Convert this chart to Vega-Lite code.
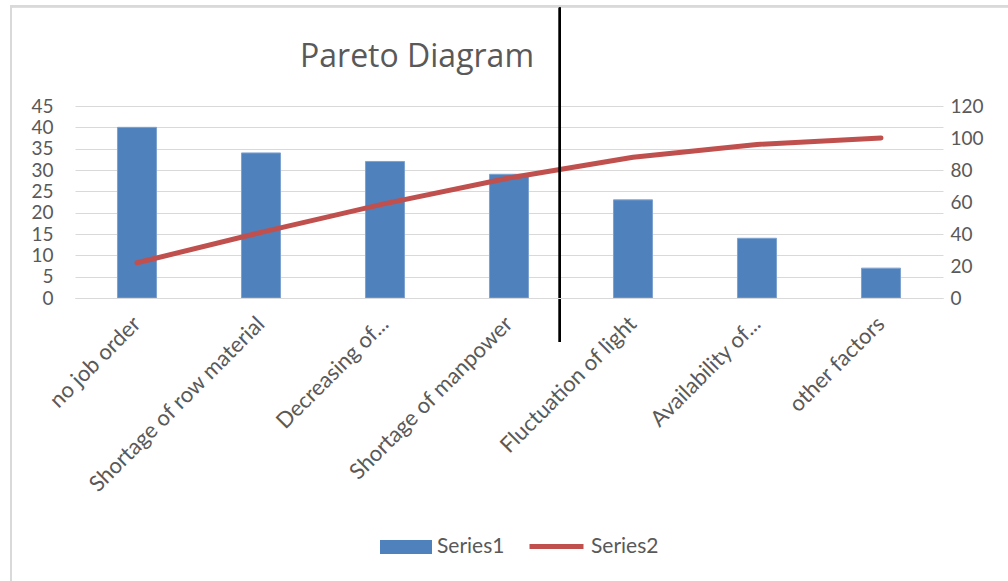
{
  "$schema": "https://vega.github.io/schema/vega-lite/v6.json",
  "autosize": "none",
  "width": 868,
  "height": 192,
  "padding": {"left": 75, "top": 106, "right": 65, "bottom": 283},
  "background": "white",
  "title": {
    "text": "Pareto Diagram",
    "anchor": "start",
    "dx": 290,
    "offset": 0,
    "dy": 69,
    "fontSize": 32,
    "font": "Open Sans",
    "fontWeight": "normal",
    "color": "#595959"
  },
  "config": {
    "view": {"stroke": null},
    "axis": {"labelFont": "Lato", "labelColor": "#595959", "labelFontSize": 19}
  },
  "data": {
    "values": [
      {"cause": "no job order", "count": 40, "cum": 22},
      {"cause": "Shortage of row material", "count": 34, "cum": 41},
      {"cause": "Decreasing of...", "count": 32, "cum": 59},
      {"cause": "Shortage of manpower", "count": 29, "cum": 75},
      {"cause": "Fluctuation of light", "count": 23, "cum": 88},
      {"cause": "Availability of...", "count": 14, "cum": 96},
      {"cause": "other factors", "count": 7, "cum": 100}
    ]
  },
  "encoding": {
    "x": {
      "field": "cause",
      "type": "nominal",
      "sort": null,
      "scale": {
        "type": "band",
        "paddingInner": 0,
        "paddingOuter": 0,
        "domain": ["no job order", "Shortage of row material", "Decreasing of...", "Shortage of manpower", "Fluctuation of light", "Availability of...", "other factors"]
      },
      "axis": {
        "title": null,
        "labelAngle": -45,
        "labelAlign": "right",
        "labelBaseline": "middle",
        "labelPadding": 22,
        "labelFontSize": 22,
        "ticks": false,
        "domain": true,
        "domainColor": "#d9d9d9",
        "labelLimit": 400
      }
    }
  },
  "layer": [
    {
      "mark": {"type": "rect", "fill": null, "stroke": "#d9d9d9", "strokeWidth": 2},
      "encoding": {
        "x": {"datum": "no job order", "bandPosition": -0.516},
        "x2": {"datum": "other factors", "bandPosition": 2.5},
        "y": {"datum": 68.4, "type": "quantitative", "scale": {"domain": [0, 45]}, "axis": null},
        "y2": {"datum": -80}
      }
    },
    {
      "mark": {"type": "bar", "width": {"band": 0.315}, "stroke": "#7ea3d1", "strokeWidth": 1},
      "encoding": {
        "y": {
          "field": "count",
          "type": "quantitative",
          "scale": {"domain": [0, 45], "nice": false},
          "axis": {
            "title": null,
            "values": [0, 5, 10, 15, 20, 25, 30, 35, 40, 45],
            "grid": true,
            "gridColor": "#d9d9d9",
            "ticks": false,
            "domain": false,
            "labelPadding": 22
          }
        },
        "fill": {
          "datum": "Series1",
          "scale": {"domain": ["Series1"], "range": ["#4f81bd"]},
          "legend": {
            "orient": "none",
            "legendX": 305,
            "legendY": 415,
            "title": null,
            "labelFont": "Lato",
            "labelFontSize": 21,
            "labelColor": "#595959",
            "symbolSize": 2704,
            "symbolType": "M-1,-0.27H1V0.27H-1Z",
            "symbolStrokeWidth": 0,
            "labelOffset": 5
          }
        }
      }
    },
    {
      "mark": {"type": "line", "strokeWidth": 5, "strokeCap": "round", "strokeJoin": "round"},
      "encoding": {
        "y": {
          "field": "cum",
          "type": "quantitative",
          "scale": {"domain": [0, 120], "nice": false},
          "axis": {
            "orient": "right",
            "title": null,
            "values": [0, 20, 40, 60, 80, 100, 120],
            "grid": false,
            "ticks": false,
            "domain": false,
            "labelPadding": 7
          }
        },
        "stroke": {
          "datum": "Series2",
          "scale": {"domain": ["Series2"], "range": ["#c0504d"]},
          "legend": {
            "orient": "none",
            "legendX": 452,
            "legendY": 411,
            "title": null,
            "labelFont": "Lato",
            "labelFontSize": 21,
            "labelColor": "#595959",
            "symbolSize": 2916,
            "symbolType": "stroke",
            "symbolStrokeWidth": 5,
            "labelOffset": 5
          }
        }
      }
    },
    {
      "mark": {"type": "rule", "color": "black", "strokeWidth": 2},
      "encoding": {
        "x": {"datum": "Shortage of manpower", "bandPosition": 0.91},
        "y": {"datum": 68, "type": "quantitative", "scale": {"domain": [0, 45]}, "axis": null},
        "y2": {"datum": -10.3}
      }
    }
  ],
  "resolve": {"scale": {"y": "independent"}}
}
